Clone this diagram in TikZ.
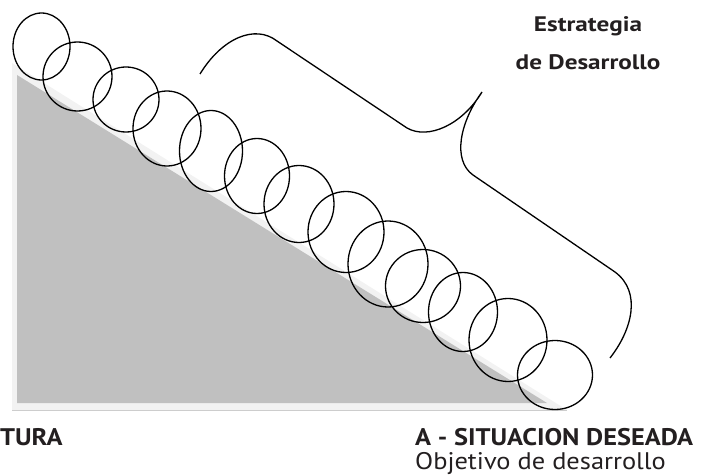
\documentclass[tikz,border=0pt]{standalone}
\usepackage{fontspec}
\setmainfont{PT Sans}
\newfontfamily\ancha{PT Sans}[FakeStretch=1.2]
\newfontfamily\media{PT Sans}[FakeStretch=1.1]
\usetikzlibrary{shapes.geometric}
\definecolor{rampa}{HTML}{C0C0C0}
\definecolor{sombra}{HTML}{F2F2F2}
\definecolor{tinta}{HTML}{231F20}
\tikzset{
  vuelta/.style={ellipse,draw,line width=1.3pt,inner sep=0pt},
  titulo/.style={text=tinta,font=\ancha\fontsize{21}{24}\selectfont\bfseries,inner sep=0pt},
  etapa/.style={text=tinta,font=\media\fontsize{24}{28}\selectfont\bfseries,inner sep=0pt},
  subtitulo/.style={text=tinta,font=\media\fontsize{24}{28}\selectfont,inner sep=0pt}
}
\begin{document}
\begin{tikzpicture}[x=1pt,y=-1pt]
      \useasboundingbox (0,0) rectangle (715,476);
      \fill[sombra] (12,63) -- (12,410) -- (567,410) -- cycle;
      \draw[rampa!80,line width=1pt] (12,410) -- (567,410);
      \fill[rampa] (17,75) -- (17,403) -- (547,403) -- cycle;
      \foreach \x/\y/\w/\h [count=\i] in
      { 41.5/46.5/57/67,
        77.5/76.5/69/69,
        126/99.5/66/65,
        167/128.5/68/75,
        211/151/63/81,
        257/176/65/75,
        299/204/70/77,
        346/232/76/81,
        388/264/80/86,
        423/286/75/73,
        463/312/69/79,
        508/340/78/83,
        555/375/75/69
      }
      \node[vuelta,minimum width=\w pt,minimum height=\h pt] (c\i) at (\x,\y) {};
      \coordinate (llaveA) at (200,74);
      \coordinate (llaveP) at (482,92);
      \coordinate (llaveB) at (610,358);
      \draw[line width=1.3pt] (llaveA) .. controls (222,38) and (255,24) .. (277,41)
        -- (407,128) .. controls (428,140) and (462,125) .. (llaveP)
        .. controls (460,122) and (452,160) .. (473,175)
        -- (615,272) .. controls (642,292) and (632,330) .. (llaveB);
      \node[titulo,anchor=base] (estrategia) at (588,32) {Estrategia};
      \node[titulo,anchor=base] (desarrollo) at (588,70) {de Desarrollo};
      \node[etapa,anchor=base west] (actual) at (0,445) {TURA};
      \node[etapa,anchor=base west] (deseada) at (415,445) {A - SITUACION DESEADA};
      \node[subtitulo,anchor=base west] (objetivo) at (415,469) {Objetivo de desarrollo};
    \end{tikzpicture}
\end{document}
